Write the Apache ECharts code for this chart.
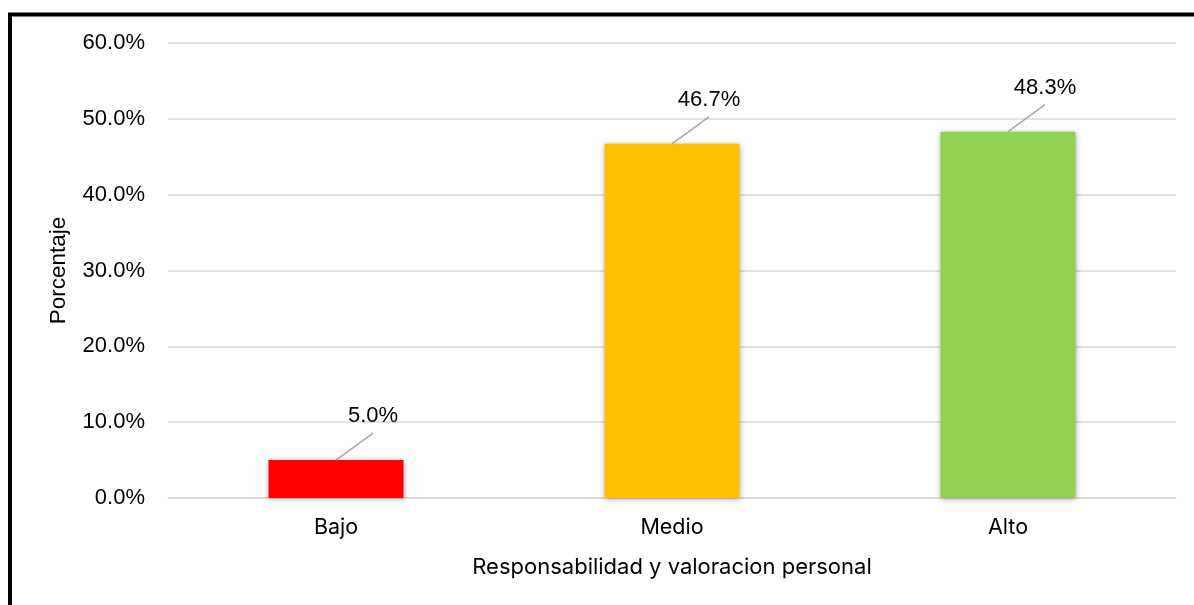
<!DOCTYPE html>
<html>
<head>
<meta charset="utf-8">
<script src="https://cdn.jsdelivr.net/npm/echarts@6/dist/echarts.min.js"></script>
<style>
html,body{margin:0;padding:0;background:#fff;}
#chart{width:1194px;height:605px;}
</style>
</head>
<body>
<div id="chart"></div>
<script>
const categories = ['Bajo', 'Medio', 'Alto'];
const values = [5.0, 46.7, 48.3];
const barColors = ['#FF0000', '#FFC000', '#92D050'];
const yTicks = { min: 0, max: 60, interval: 10 };
const xTitle = 'Responsabilidad y valoracion personal';
const yTitle = 'Porcentaje';

const LBL_DX = 37, LBL_DY = -27;
const tickFont = '"Liberation Sans", Arial, sans-serif';
const catFont = 'Inter, "Liberation Sans", sans-serif';

const chart = echarts.init(document.getElementById('chart'));
chart.setOption({
  animation: false,
  backgroundColor: '#fff',
  grid: { left: 168, right: 18, top: 43, bottom: 107 },
  graphic: [{
    type: 'rect', z: 100,
    shape: { x: 10, y: 14.5, width: 1300, height: 800 },
    style: { fill: 'none', stroke: '#000', lineWidth: 4 }
  }],
  xAxis: {
    type: 'category',
    data: categories,
    name: xTitle,
    nameLocation: 'middle',
    nameGap: 58,
    nameTextStyle: { fontFamily: catFont, fontSize: 22, color: '#000' },
    axisLine: { show: true, lineStyle: { color: '#d9d9d9', width: 1.5 } },
    axisTick: { show: false },
    axisLabel: { margin: 19, fontFamily: catFont, fontSize: 21.5, color: '#000' }
  },
  yAxis: {
    type: 'value',
    min: yTicks.min, max: yTicks.max, interval: yTicks.interval,
    name: yTitle,
    nameLocation: 'middle',
    nameGap: 98,
    nameRotate: 90,
    nameTextStyle: { fontFamily: tickFont, fontSize: 22.5, color: '#000' },
    axisLine: { show: false },
    axisTick: { show: false },
    splitLine: { lineStyle: { color: '#d9d9d9', width: 1.5 } },
    axisLabel: {
      margin: 23, fontFamily: tickFont, fontSize: 22, color: '#000',
      formatter: v => v.toFixed(1) + '%'
    }
  },
  series: [{
    type: 'bar',
    data: values.map((v, i) => ({ value: v, itemStyle: { color: barColors[i] } })),
    barWidth: 135,
    itemStyle: { shadowBlur: 6, shadowColor: 'rgba(0,0,0,0.35)', shadowOffsetX: 0, shadowOffsetY: 1 },
    label: {
      show: true,
      position: 'top',
      offset: [LBL_DX, -28],
      fontFamily: tickFont, fontSize: 22, color: '#000',
      formatter: p => p.value.toFixed(1) + '%'
    }
  }, {
    type: 'custom',
    data: values.map((v, i) => [i, v]),
    renderItem: function (params, api) {
      const p = api.coord([api.value(0), api.value(1)]);
      return {
        type: 'line',
        shape: { x1: p[0], y1: p[1], x2: p[0] + LBL_DX, y2: p[1] + LBL_DY },
        style: { stroke: '#a6a6a6', lineWidth: 1.5 }
      };
    },
    z: 5,
    silent: true
  }]
});
</script>
</body>
</html>
